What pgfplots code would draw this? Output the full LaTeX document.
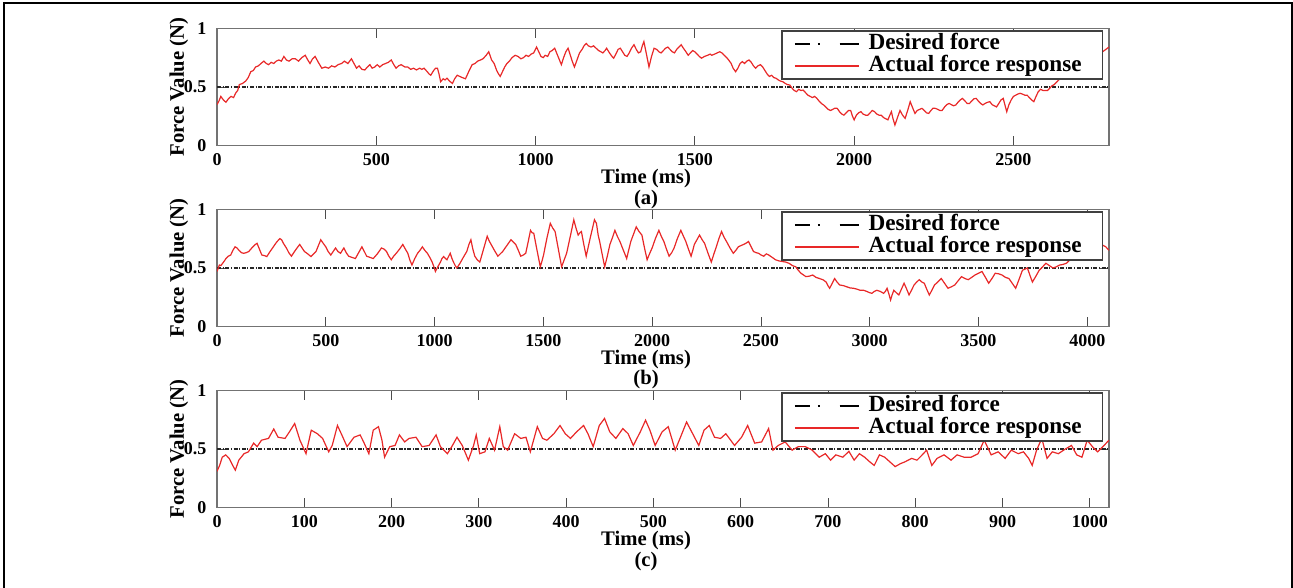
\documentclass[border=0pt]{standalone}
\usepackage{pgfplots}
\usepackage{pgfplotstable}
\pgfplotsset{compat=1.18}
\usepackage{fontspec}
\setmainfont{Liberation Serif}
\definecolor{frc}{RGB}{232,40,40}
\definecolor{axc}{RGB}{115,115,115}

\pgfplotstableread{
x y
0 0.35
6 0.38
12 0.42
20 0.39
28 0.37
36 0.40
44 0.42
52 0.41
59 0.45
65 0.47
70 0.52
80 0.53
90 0.55
98 0.58
106 0.63
114 0.64
121 0.67
130 0.68
138 0.70
147 0.72
155 0.70
162 0.69
170 0.71
178 0.70
186 0.72
194 0.73
202 0.72
210 0.76
218 0.73
226 0.72
236 0.74
246 0.74
256 0.72
266 0.75
277 0.77
285 0.73
292 0.70
300 0.74
308 0.76
318 0.71
329 0.66
340 0.67
350 0.66
360 0.68
370 0.67
380 0.69
391 0.70
400 0.72
411 0.70
422 0.74
430 0.70
438 0.66
446 0.68
455 0.65
464 0.645
472 0.67
480 0.69
487 0.66
495 0.67
503 0.69
511 0.67
520 0.69
529 0.70
538 0.71
547 0.73
555 0.69
562 0.66
570 0.68
578 0.69
590 0.67
599 0.67
608 0.65
617 0.66
626 0.645
636 0.66
643 0.65
650 0.66
660 0.63
666 0.61
671 0.60
680 0.64
686 0.66
692 0.66
697 0.61
702 0.545
710 0.57
716 0.56
722 0.575
730 0.55
739 0.53
746 0.57
754 0.60
762 0.59
770 0.58
780 0.57
790 0.63
801 0.69
810 0.70
818 0.72
827 0.73
835 0.74
845 0.77
853 0.80
862 0.73
870 0.70
878 0.64
884 0.61
889 0.59
896 0.63
903 0.67
910 0.70
918 0.72
926 0.75
936 0.77
945 0.76
954 0.74
962 0.75
970 0.77
978 0.76
986 0.78
994 0.79
1003 0.84
1010 0.80
1017 0.76
1024 0.75
1030 0.77
1038 0.76
1045 0.80
1052 0.81
1060 0.83
1066 0.79
1072 0.75
1081 0.69
1088 0.75
1095 0.80
1102 0.83
1108 0.78
1115 0.72
1122 0.67
1130 0.73
1138 0.79
1146 0.82
1152 0.85
1159 0.87
1166 0.85
1174 0.84
1182 0.85
1190 0.83
1198 0.81
1205 0.80
1211 0.79
1218 0.81
1223 0.83
1232 0.79
1240 0.76
1245 0.745
1252 0.78
1259 0.82
1266 0.83
1273 0.80
1280 0.77
1287 0.76
1294 0.79
1301 0.83
1309 0.86
1316 0.82
1323 0.79
1330 0.80
1335 0.85
1340 0.886
1348 0.78
1356 0.67
1364 0.76
1372 0.83
1380 0.82
1387 0.80
1394 0.79
1401 0.81
1408 0.83
1415 0.84
1422 0.82
1429 0.80
1436 0.79
1443 0.82
1450 0.84
1457 0.86
1464 0.83
1472 0.80
1479 0.77
1486 0.79
1493 0.81
1500 0.80
1507 0.78
1514 0.76
1521 0.745
1530 0.76
1540 0.77
1548 0.78
1553 0.77
1562 0.78
1570 0.79
1578 0.80
1585 0.79
1592 0.77
1600 0.75
1606 0.73
1614 0.70
1620 0.66
1628 0.63
1635 0.66
1642 0.70
1649 0.716
1656 0.70
1663 0.72
1670 0.73
1677 0.71
1684 0.68
1691 0.66
1698 0.68
1706 0.69
1713 0.67
1720 0.64
1727 0.61
1734 0.59
1741 0.60
1748 0.58
1755 0.574
1762 0.56
1769 0.55
1776 0.545
1784 0.53
1791 0.52
1798 0.517
1805 0.49
1812 0.47
1819 0.46
1826 0.48
1833 0.47
1840 0.474
1848 0.45
1855 0.43
1862 0.42
1869 0.41
1876 0.42
1883 0.403
1890 0.38
1897 0.36
1904 0.347
1911 0.33
1918 0.31
1926 0.30
1933 0.31
1940 0.32
1947 0.318
1954 0.29
1961 0.27
1968 0.26
1975 0.28
1982 0.30
1989 0.30
1995 0.25
2000 0.22
2007 0.26
2014 0.28
2021 0.29
2028 0.27
2036 0.26
2043 0.26
2050 0.28
2057 0.30
2064 0.29
2071 0.27
2078 0.26
2085 0.26
2092 0.24
2099 0.23
2106 0.22
2112 0.26
2117 0.29
2122 0.23
2128 0.176
2136 0.24
2144 0.30
2152 0.26
2160 0.233
2168 0.30
2176 0.375
2184 0.32
2191 0.275
2198 0.30
2206 0.31
2213 0.318
2220 0.30
2227 0.28
2234 0.275
2241 0.30
2248 0.32
2255 0.318
2262 0.31
2269 0.30
2276 0.30
2284 0.33
2291 0.35
2298 0.36
2305 0.35
2312 0.34
2319 0.347
2326 0.37
2333 0.39
2340 0.403
2348 0.38
2355 0.36
2362 0.36
2369 0.38
2376 0.40
2383 0.403
2390 0.38
2397 0.36
2404 0.347
2411 0.36
2419 0.37
2426 0.375
2433 0.35
2440 0.34
2447 0.33
2454 0.36
2461 0.39
2468 0.403
2474 0.34
2479 0.29
2486 0.35
2493 0.39
2500 0.42
2507 0.43
2514 0.44
2521 0.446
2528 0.44
2536 0.43
2543 0.43
2550 0.41
2557 0.39
2564 0.375
2571 0.42
2578 0.46
2585 0.48
2593 0.47
2600 0.47
2607 0.47
2614 0.49
2621 0.51
2628 0.52
2635 0.54
2642 0.56
2649 0.574
2656 0.60
2663 0.62
2670 0.645
2680 0.67
2690 0.69
2700 0.70
2710 0.72
2720 0.71
2730 0.73
2740 0.75
2750 0.76
2760 0.74
2770 0.78
2780 0.80
2790 0.82
2800 0.84
}\tablea

\pgfplotstableread{
x y
0 0.47
6 0.50
11 0.525
18 0.52
26 0.54
34 0.56
41 0.58
52 0.60
63 0.61
73 0.65
83 0.68
92 0.67
101 0.65
112 0.63
123 0.625
134 0.63
146 0.64
160 0.67
176 0.70
184 0.71
195 0.66
206 0.61
218 0.605
229 0.597
244 0.64
259 0.68
274 0.72
289 0.75
297 0.74
305 0.71
319 0.67
330 0.63
342 0.60
360 0.65
380 0.70
391 0.67
402 0.64
417 0.62
432 0.597
444 0.62
455 0.64
466 0.69
477 0.74
488 0.71
500 0.68
511 0.64
523 0.61
534 0.64
545 0.67
556 0.64
568 0.625
576 0.65
583 0.67
594 0.63
605 0.60
620 0.59
636 0.58
651 0.63
666 0.68
677 0.64
688 0.60
703 0.59
718 0.58
737 0.62
756 0.67
768 0.66
779 0.64
790 0.60
801 0.57
812 0.60
824 0.625
839 0.66
854 0.70
866 0.66
877 0.625
886 0.57
896 0.525
909 0.58
922 0.625
933 0.65
944 0.68
955 0.65
967 0.625
978 0.59
989 0.55
997 0.51
1004 0.47
1015 0.51
1027 0.55
1034 0.58
1042 0.597
1050 0.58
1057 0.57
1065 0.60
1072 0.625
1080 0.58
1087 0.55
1095 0.52
1102 0.50
1110 0.52
1117 0.54
1132 0.59
1148 0.64
1158 0.70
1167 0.74
1176 0.66
1185 0.60
1196 0.57
1208 0.55
1225 0.66
1242 0.77
1251 0.73
1260 0.70
1275 0.65
1291 0.60
1302 0.62
1313 0.64
1332 0.69
1351 0.74
1362 0.72
1373 0.70
1385 0.65
1396 0.60
1408 0.61
1419 0.625
1430 0.72
1441 0.82
1448 0.80
1456 0.795
1471 0.65
1486 0.51
1494 0.56
1501 0.61
1516 0.75
1532 0.88
1543 0.84
1554 0.81
1569 0.66
1584 0.51
1596 0.57
1607 0.625
1624 0.77
1640 0.91
1650 0.84
1660 0.78
1668 0.80
1675 0.81
1686 0.70
1697 0.60
1716 0.76
1735 0.91
1744 0.88
1752 0.78
1759 0.725
1770 0.62
1782 0.51
1794 0.60
1806 0.70
1818 0.76
1829 0.82
1840 0.77
1852 0.725
1868 0.65
1883 0.58
1892 0.65
1902 0.725
1915 0.79
1927 0.85
1940 0.81
1953 0.78
1965 0.67
1977 0.57
1988 0.62
2000 0.67
2015 0.75
2031 0.82
2042 0.77
2054 0.725
2066 0.66
2078 0.60
2090 0.63
2101 0.67
2116 0.75
2132 0.82
2144 0.77
2155 0.725
2167 0.66
2179 0.60
2187 0.65
2194 0.70
2206 0.74
2218 0.78
2230 0.74
2241 0.71
2256 0.63
2272 0.55
2284 0.62
2295 0.68
2307 0.75
2319 0.81
2331 0.76
2342 0.725
2358 0.67
2373 0.625
2385 0.65
2396 0.68
2408 0.69
2420 0.70
2431 0.71
2443 0.725
2455 0.68
2466 0.64
2478 0.63
2489 0.625
2501 0.61
2513 0.60
2525 0.62
2536 0.61
2552 0.59
2567 0.57
2583 0.56
2598 0.555
2614 0.55
2629 0.54
2645 0.52
2660 0.51
2672 0.48
2684 0.455
2696 0.44
2707 0.426
2722 0.43
2738 0.44
2753 0.42
2769 0.41
2785 0.40
2800 0.38
2808 0.35
2816 0.327
2828 0.37
2839 0.41
2850 0.38
2862 0.355
2878 0.35
2894 0.34
2910 0.33
2925 0.327
2941 0.32
2956 0.31
2972 0.31
2987 0.30
2999 0.29
3010 0.284
3021 0.30
3033 0.31
3049 0.30
3064 0.284
3072 0.30
3080 0.327
3088 0.28
3096 0.227
3103 0.27
3111 0.31
3122 0.29
3134 0.27
3146 0.32
3158 0.37
3170 0.32
3181 0.27
3192 0.31
3204 0.355
3216 0.38
3228 0.40
3240 0.38
3251 0.37
3262 0.32
3274 0.27
3286 0.31
3298 0.355
3313 0.38
3329 0.41
3344 0.37
3360 0.327
3376 0.34
3391 0.355
3406 0.39
3422 0.426
3438 0.41
3453 0.40
3469 0.42
3484 0.44
3500 0.455
3516 0.47
3532 0.42
3547 0.37
3562 0.41
3577 0.455
3593 0.45
3608 0.44
3624 0.42
3640 0.41
3655 0.37
3671 0.327
3686 0.40
3702 0.48
3714 0.49
3725 0.50
3736 0.44
3748 0.38
3764 0.43
3779 0.48
3795 0.51
3810 0.54
3826 0.52
3842 0.50
3858 0.51
3873 0.525
3889 0.53
3904 0.54
3916 0.56
3927 0.58
3945 0.60
3965 0.62
3985 0.63
4005 0.64
4025 0.66
4045 0.68
4065 0.70
4085 0.68
4100 0.65
}\tableb

\pgfplotstableread{
x y
0 0.31
3 0.36
6 0.43
10 0.45
14 0.42
18 0.36
21 0.32
25 0.405
31 0.46
36 0.476
42 0.55
46 0.52
51 0.575
59 0.59
65 0.67
70 0.60
78 0.59
83 0.646
89 0.717
95 0.575
102 0.46
108 0.66
115 0.63
121 0.59
128 0.476
132 0.53
138 0.70
143 0.62
149 0.52
157 0.60
164 0.62
168 0.56
174 0.46
179 0.66
185 0.69
189 0.575
192 0.43
198 0.52
204 0.53
209 0.62
215 0.56
220 0.59
228 0.60
235 0.52
243 0.53
251 0.62
256 0.52
264 0.46
269 0.52
275 0.60
281 0.53
288 0.405
294 0.53
297 0.62
301 0.46
307 0.476
312 0.59
318 0.49
324 0.69
328 0.52
333 0.49
341 0.63
348 0.59
354 0.60
359 0.476
367 0.69
373 0.59
378 0.575
386 0.63
393 0.70
399 0.63
405 0.59
412 0.646
420 0.70
425 0.63
431 0.52
438 0.70
444 0.76
450 0.646
457 0.59
465 0.674
471 0.63
477 0.53
485 0.646
491 0.745
496 0.66
502 0.53
510 0.646
517 0.69
525 0.49
531 0.60
538 0.73
545 0.63
552 0.53
558 0.66
564 0.70
570 0.60
577 0.59
583 0.63
593 0.53
601 0.60
608 0.70
616 0.55
624 0.56
632 0.674
637 0.49
643 0.53
651 0.56
659 0.49
666 0.52
674 0.52
682 0.49
690 0.43
697 0.46
703 0.405
709 0.45
717 0.43
724 0.48
730 0.405
736 0.46
742 0.43
748 0.39
753 0.36
759 0.45
765 0.43
771 0.39
777 0.35
783 0.375
788 0.39
796 0.42
802 0.405
808 0.45
813 0.49
819 0.36
825 0.42
833 0.45
841 0.405
848 0.45
856 0.43
864 0.43
872 0.46
879 0.575
887 0.45
895 0.476
903 0.42
910 0.49
918 0.46
924 0.476
930 0.42
934 0.36
939 0.49
945 0.59
951 0.42
957 0.476
964 0.46
972 0.50
979 0.53
985 0.45
991 0.43
997 0.575
1003 0.52
1009 0.476
1015 0.52
1022 0.575
}\tablec

\pgfplotsset{
 panel/.style={
  scale only axis, width=669pt, height=88.1pt, anchor=south west,
  ymin=0, ymax=1, ytick={0,0.5,1},
  axis line style={axc, line width=1pt},
  tick style={color=black!70, line width=0.6pt},
  major tick length=7.5pt,
  tick align=inside,
  /pgf/number format/assume math mode=true,
  /pgf/number format/1000 sep={},
  scaled x ticks=false, scaled y ticks=false,
  tick label style={font=\fontsize{13.5}{13.5}\selectfont\bfseries},
  xticklabel style={yshift=-2pt},
  yticklabel style={xshift=-4.5pt},
  xlabel style={at={(axis description cs:0.481,0)}, anchor=center, yshift=-32.4pt, align=center, font=\fontsize{15.5}{15.2}\selectfont\bfseries},
  ylabel style={at={(axis description cs:-0.0426,0.5)}, anchor=center, font=\fontsize{15.5}{15.5}\selectfont\bfseries},
  ylabel={Force Value (N)},
  legend style={at={(rel axis cs:0.9933,0.982)}, anchor=north east, draw=black!75, line width=1pt, fill=white, inner xsep=9pt, inner ysep=1.8pt, font=\fontsize{17.4}{17.4}\selectfont\bfseries, cells={anchor=west}, nodes={inner xsep=6.5pt, inner ysep=0.6pt, text height=11.5pt, text depth=3.5pt}},
  legend cell align=left,
 },
 desired/.style={black!85, line width=1.2pt, dash pattern=on 3pt off 1.2pt on 0.8pt off 1.2pt,
   legend image code/.code={\draw[black, line width=1.6pt, solid] (0pt,0pt)--(11.25pt,0pt) (17.25pt,0pt)--(18.75pt,0pt) (33.5pt,0pt)--(48pt,0pt);}},
 actual/.style={frc, line width=0.9pt,
   legend image code/.code={\draw[frc, line width=1.6pt] (0pt,0pt)--(48pt,0pt);}},
}

\begin{document}
\begin{tikzpicture}
\useasboundingbox (0,0) rectangle (969.75pt,441pt);
\draw[line width=1.5pt] (3pt,-5pt) -- (3pt,438.75pt) -- (969pt,438.75pt) -- (969pt,-5pt);

\begin{axis}[panel, at={(162.75pt,331.7pt)}, xmin=0, xmax=2800, xtick={0,500,...,2500}, xlabel={Time (ms)\\(a)}]
\addplot[desired] coordinates {(0,0.5) (2800,0.5)};
\addlegendentry{Desired force}
\addplot[actual] table[x=x,y=y] {\tablea};
\addlegendentry{Actual force response\hspace{3pt}}
\end{axis}

\begin{axis}[panel, at={(162.75pt,195.98pt)}, xmin=0, xmax=4100, xtick={0,500,...,4000}, xlabel={Time (ms)\\(b)}]
\addplot[desired] coordinates {(0,0.5) (4100,0.5)};
\addlegendentry{Desired force}
\addplot[actual] table[x=x,y=y] {\tableb};
\addlegendentry{Actual force response\hspace{3pt}}
\end{axis}

\begin{axis}[panel, at={(162.75pt,60.2pt)}, xmin=0, xmax=1022, xtick={0,100,...,1000}, xlabel={Time (ms)\\(c)}]
\addplot[desired] coordinates {(0,0.5) (1022,0.5)};
\addlegendentry{Desired force}
\addplot[actual] table[x=x,y=y] {\tablec};
\addlegendentry{Actual force response\hspace{3pt}}
\end{axis}
\end{tikzpicture}
\end{document}
